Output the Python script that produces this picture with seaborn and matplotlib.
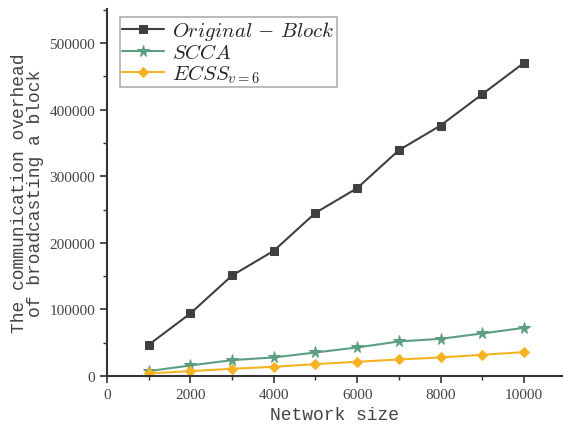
import pandas as pd
import matplotlib.pyplot as plt
import seaborn as sns
from matplotlib.ticker import MultipleLocator

# --- DATA ---
network_size = [1000, 2000, 3000, 4000, 5000, 6000, 7000, 8000, 9000, 10000]
original_block = [47000, 94000, 151000, 188000, 245000, 282000, 339000, 376000, 423000, 470000]
scca = [7500, 16000, 24000, 28000, 35500, 43000, 52000, 56000, 64000, 72500]
ecss = [4000, 7500, 11000, 14000, 18000, 21500, 25000, 28000, 32000, 36000]

series = [
    ("$Original\\,-\\,Block$", original_block, "#404040", "s", 6),
    ("$SCCA$", scca, "#5d9e80", "*", 8.5),
    ("$ECSS_{v=6}$", ecss, "#f5b324", "D", 5.5),
]

sns.set_style("ticks")
plt.rcParams["mathtext.fontset"] = "cm"

fig = plt.figure(figsize=(5.63, 4.31), dpi=100)
ax = fig.add_axes([0.19, 0.125, 0.808, 0.852])

for label, vals, color, marker, ms in series:
    df = pd.DataFrame({"x": network_size, "y": vals})
    sns.lineplot(data=df, x="x", y="y", ax=ax, color=color, marker=marker,
                 markersize=ms, markeredgecolor=color, linewidth=1.5, label=label)

ax.set_xlim(0, 10910)
ax.set_ylim(0, 551000)
ax.xaxis.set_major_locator(MultipleLocator(2000))
ax.xaxis.set_minor_locator(MultipleLocator(1000))
ax.yaxis.set_major_locator(MultipleLocator(100000))
ax.yaxis.set_minor_locator(MultipleLocator(50000))
ax.tick_params(which="major", length=5, width=1.2, colors="#333333", labelcolor="#444444")
ax.tick_params(which="minor", length=3, width=1.0, colors="#333333")
for lab in ax.get_xticklabels() + ax.get_yticklabels():
    lab.set_family("Liberation Serif")
    lab.set_fontsize(11)

for s in ["top", "right"]:
    ax.spines[s].set_visible(False)
for s in ["left", "bottom"]:
    ax.spines[s].set_linewidth(1.5)
    ax.spines[s].set_color("#333333")

ax.set_xlabel("Network size", family="Liberation Mono", fontsize=13, color="#444444")
ax.set_ylabel("The communication overhead\nof broadcasting a block",
              family="Liberation Mono", fontsize=13, color="#444444", linespacing=0.95)

leg = ax.legend(loc="upper left", fontsize=15, frameon=True, fancybox=False,
                handlelength=2.0, borderpad=0.1, labelspacing=0.0,
                handletextpad=0.4, borderaxespad=0.4, bbox_to_anchor=(0.01, 1.0))
leg.get_frame().set_edgecolor("#999999")
leg.get_frame().set_linewidth(1.2)

fig.savefig("out.png", dpi=100)
